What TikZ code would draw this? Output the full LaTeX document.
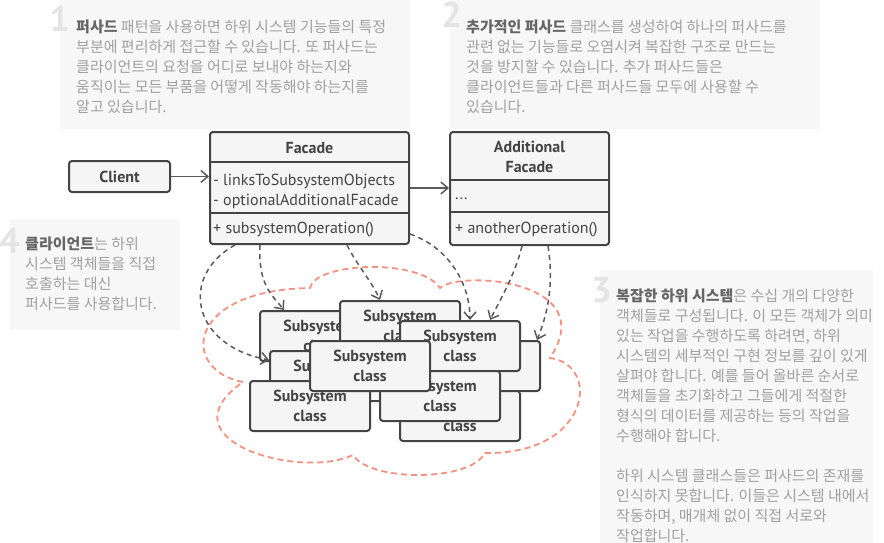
\documentclass[tikz,border=0pt]{standalone}
\usepackage{fontspec}
\setmainfont{PT Sans}
\newfontfamily\kr{Noto Sans CJK KR}
\usetikzlibrary{arrows.meta, positioning}

\definecolor{notebg}{HTML}{F7F7F7}
\definecolor{notetxt}{HTML}{A0A0A0}
\definecolor{notebold}{HTML}{666666}
\definecolor{notenum}{HTML}{E4E4E4}
\definecolor{boxline}{HTML}{444444}
\definecolor{boxfill}{HTML}{F5F5F5}
\definecolor{arrowc}{HTML}{5A5A5A}
\definecolor{cloudc}{HTML}{F8907E}

\begin{document}
\begin{tikzpicture}[x=1pt, y=-1pt,
    classbox/.style={draw=boxline, fill=boxfill, line width=2pt, rounded corners=3pt, inner sep=0pt},
    subbox/.style={classbox, minimum width=120pt, minimum height=50pt, align=center,
        font=\fontsize{16}{20}\selectfont\bfseries, text=boxline},
    member/.style={anchor=west, inner sep=0pt, align=left, font=\fontsize{16}{20}\selectfont, text=boxline},
    classname/.style={inner sep=0pt, align=center, font=\fontsize{16}{20}\selectfont\bfseries, text=boxline},
    note/.style={anchor=north west, inner sep=0pt, align=left, font=\kr\fontsize{15}{20}\selectfont, text=notetxt},
    num/.style={anchor=base east, inner sep=0pt, font=\fontsize{36}{36}\selectfont\bfseries, text=notenum},
    assoc/.style={draw=arrowc, line width=1.5pt, -{Straight Barb[length=7pt, width=12pt]}},
    dep/.style={assoc, dash pattern=on 5pt off 4pt},
    cloud/.style={draw=cloudc, line width=1.8pt, dash pattern=on 6pt off 4pt}
]
    \useasboundingbox (0,0) rectangle (884,543);

    % notes
    \fill[notebg] (60,0) rectangle (410,129);
    \fill[notebg] (450,0) rectangle (820,129);
    \fill[notebg] (600,270) rectangle (873,543);
    \fill[notebg] (10,219) rectangle (180,330);

    \node[num] (num1) at (70,32) {1};
    \node[note] (note1) at (76,20) {\textcolor{notebold}{\bfseries 퍼사드} 패턴을 사용하면 하위 시스템 기능들의 특정\\
        부분에 편리하게 접근할 수 있습니다. 또 퍼사드는\\
        클라이언트의 요청을 어디로 보내야 하는지와\\
        움직이는 모든 부품을 어떻게 작동해야 하는지를\\
        알고 있습니다.};

    \node[num] (num2) at (462,28) {2};
    \node[note] (note2) at (466,20) {\textcolor{notebold}{\bfseries 추가적인 퍼사드} 클래스를 생성하여 하나의 퍼사드를\\
        관련 없는 기능들로 오염시켜 복잡한 구조로 만드는\\
        것을 방지할 수 있습니다. 추가 퍼사드들은\\
        클라이언트들과 다른 퍼사드들 모두에 사용할 수\\
        있습니다.};

    \node[num] (num3) at (612,302) {3};
    \node[note] (note3) at (616,289) {\textcolor{notebold}{\bfseries 복잡한 하위 시스템}은 수십 개의 다양한\\
        객체들로 구성됩니다. 이 모든 객체가 의미\\
        있는 작업을 수행하도록 하려면, 하위\\
        시스템의 세부적인 구현 정보를 깊이 있게\\
        살펴야 합니다. 예를 들어 올바른 순서로\\
        객체들을 초기화하고 그들에게 적절한\\
        형식의 데이터를 제공하는 등의 작업을\\
        수행해야 합니다.\\[20pt]
        하위 시스템 클래스들은 퍼사드의 존재를\\
        인식하지 못합니다. 이들은 시스템 내에서\\
        작동하며, 매개체 없이 직접 서로와\\
        작업합니다.};

    \node[num] (num4) at (20,253) {4};
    \node[note] (note4) at (25,237) {\textcolor{notebold}{\bfseries 클라이언트}는 하위\\
        시스템 객체들을 직접\\
        호출하는 대신\\
        퍼사드를 사용합니다.};

    % subsystem cloud
    \draw[cloud] (243,382) .. controls (180,370) and (185,290) .. (310,288)
        .. controls (315,262) and (420,258) .. (440,288)
        .. controls (460,270) and (602,280) .. (550,358)
        .. controls (602,365) and (590,455) .. (485,453)
        .. controls (470,482) and (370,482) .. (353,455)
        .. controls (300,480) and (160,440) .. cycle;

    % client
    \node[classbox, minimum width=101pt, minimum height=31pt, font=\fontsize{16}{20}\selectfont\bfseries, text=boxline] (client) at (119.5,176.5) {Client};

    % facade
    \node[classbox, minimum width=199pt, minimum height=112pt] (facade) at (309.5,188) {};
    \draw[boxline, line width=2pt] ([yshift=-31pt]facade.north west) -- ([yshift=-31pt]facade.north east);
    \draw[boxline, line width=2pt] ([yshift=-82pt]facade.north west) -- ([yshift=-82pt]facade.north east);
    \node[classname] (facadename) at (309.5,148) {Facade};
    \node[member] (facadefields) at (213,191) {- linksToSubsystemObjects\\- optionalAdditionalFacade};
    \node[member] (facadeops) at (213,230) {+ subsystemOperation()};

    % additional facade
    \node[classbox, minimum width=159pt, minimum height=113pt] (addfacade) at (529.5,188.5) {};
    \draw[boxline, line width=2pt] ([yshift=-49pt]addfacade.north west) -- ([yshift=-49pt]addfacade.north east);
    \draw[boxline, line width=2pt] ([yshift=-81pt]addfacade.north west) -- ([yshift=-81pt]addfacade.north east);
    \node[classname] (addname) at (529.5,157) {Additional\\Facade};
    \node[member] (adddots) at (455,199) {...};
    \node[member] (addops) at (455,230) {+ anotherOperation()};

    % subsystem classes, back to front
    \node[subbox] (ssA) at (320,336) {Subsystem\\class};
    \node[subbox] (ssB) at (400,326) {Subsystem\\class};
    \node[subbox] (ssE) at (330,376) {Subsystem\\class};
    \node[subbox] (ssG) at (310,406) {Subsystem\\class};
    \node[subbox] (ssD) at (480,366) {Subsystem\\class};
    \node[subbox] (ssC) at (460,346) {Subsystem\\class};
    \node[subbox] (ssI) at (460,416) {Subsystem\\class};
    \node[subbox] (ssH) at (440,396) {Subsystem\\class};
    \node[subbox] (ssF) at (370,366) {Subsystem\\class};

    % associations
    \draw[assoc] (client.east) -- (facade.west |- client.east);
    \draw[assoc] (facade.east) -- (addfacade.west |- facade.east);

    % dependencies
    \draw[dep] ([xshift=-74.5pt]facade.south) .. controls (180,275) and (190,345) .. ([yshift=16pt]ssE.west);
    \draw[dep] ([xshift=-49.5pt]facade.south) .. controls (258,285) and (272,295) .. ([xshift=-36pt]ssA.north);
    \draw[dep] ([xshift=37.5pt]facade.south) .. controls (355,262) and (372,282) .. ([xshift=-20pt]ssB.north);
    \draw[dep] ([yshift=11pt]facade.south east) .. controls (450,248) and (470,285) .. ([xshift=10pt]ssC.north);
    \draw[dep] ([xshift=-7.5pt]addfacade.south) .. controls (515,275) and (500,300) .. ([xshift=30pt]ssC.north);
    \draw[dep] ([xshift=18.5pt]addfacade.south) .. controls (555,290) and (545,320) .. ([xshift=57pt]ssD.north);
\end{tikzpicture}
\end{document}
